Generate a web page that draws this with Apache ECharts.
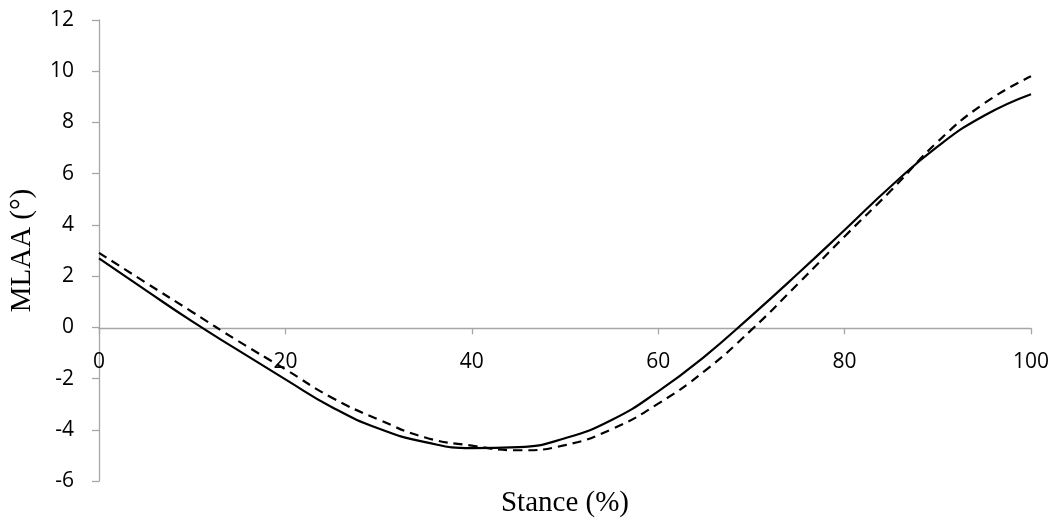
<!DOCTYPE html>
<html>
<head>
<meta charset="utf-8">
<script src="https://cdn.jsdelivr.net/npm/echarts@6/dist/echarts.min.js"></script>
<style>
html,body{margin:0;padding:0;background:#fff;}
#chart{width:1056px;height:522px;}
</style>
</head>
<body>
<div id="chart"></div>
<script>
var stance = [0,5,10,15,20,25,30,35,40,45,50,55,60,65,70,75,80,85,90,95,100];
var solidSeries = [2.69,1.45,0.23,-0.91,-2.03,-3.12,-3.95,-4.48,-4.72,-4.68,-4.33,-3.62,-2.5,-1.13,0.45,2.1,3.8,5.52,7.07,8.27,9.1];
var dashedSeries = [2.91,1.75,0.6,-0.55,-1.64,-2.75,-3.6,-4.3,-4.62,-4.8,-4.6,-3.98,-2.98,-1.7,-0.1,1.7,3.55,5.35,7.25,8.75,9.8];
var xTitle = 'Stance (%)';
var yTitle = 'MLAA (°)';
var yMin = -6, yMax = 12, yStep = 2;

function pairs(xs, ys){ return xs.map(function(x,i){ return [x, ys[i]]; }); }

var chart = echarts.init(document.getElementById('chart'));
var axisGrey = '#a6a6a6';
var tickFont = {fontFamily:'Open Sans', fontSize:21, color:'#000'};
chart.setOption({
  animation:false,
  backgroundColor:'#fff',
  grid:{left:97, right:25, top:20, bottom:41},
  xAxis:{
    type:'value', min:0, max:100, interval:20, position:'bottom',
    axisLine:{show:true, onZero:false, lineStyle:{color:axisGrey, width:1.3}},
    axisTick:{show:true, length:6, lineStyle:{color:axisGrey, width:1.3}},
    axisLabel:Object.assign({margin:23}, tickFont),
    splitLine:{show:false}
  },
  yAxis:{
    type:'value', min:yMin, max:yMax, interval:yStep,
    axisLine:{show:true, lineStyle:{color:axisGrey, width:1.3}},
    axisTick:{show:true, length:7, lineStyle:{color:axisGrey, width:1.3}},
    axisLabel:Object.assign({margin:25}, tickFont),
    splitLine:{show:false},
    name:yTitle, nameLocation:'middle', nameRotate:90, nameGap:62,
    nameTextStyle:{fontFamily:'Liberation Serif', fontSize:29, color:'#000'}
  },
  series:[{
    type:'line', data:pairs(stance, solidSeries), smooth:0.5, showSymbol:false,
    lineStyle:{color:'#000', width:2.2, type:'solid'}
  },{
    type:'line', data:pairs(stance, dashedSeries), smooth:0.5, showSymbol:false,
    lineStyle:{color:'#000', width:2.2, type:[9,6]}
  }]
});
var cx = chart.convertToPixel({xAxisIndex:0}, 50);
var yZero = chart.convertToPixel({yAxisIndex:0}, 0);
var yBottom = chart.convertToPixel({yAxisIndex:0}, yMin);
chart.setOption({
  xAxis:{offset: -(yBottom - yZero)},
  graphic:[{
    type:'text', x:cx, y:489,
    style:{text:xTitle, fontFamily:'Liberation Serif', fontSize:29, fill:'#000', textAlign:'center', textVerticalAlign:'top'}
  }]
});
</script>
</body>
</html>
